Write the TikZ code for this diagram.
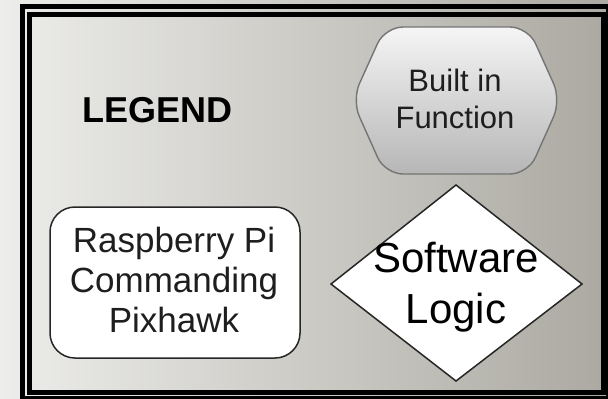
\documentclass[tikz,border=0pt]{standalone}
\usepackage{fontspec}
\setmainfont{Liberation Sans}
\definecolor{bgl}{HTML}{EDEDEB}
\definecolor{bgm}{HTML}{D8D7D2}
\definecolor{bgr}{HTML}{ABA9A1}
\definecolor{txt}{HTML}{1E1E1E}
\definecolor{hexline}{HTML}{747474}
\definecolor{hextop}{HTML}{F5F5F5}
\definecolor{hexbot}{HTML}{B6B6B6}
\tikzset{
  frameline/.style={draw=black, line width=2.5pt},
  boxline/.style={draw=black!85, line width=0.75pt, fill=white},
  labeltext/.style={text=txt, inner sep=0pt, align=center},
}
\begin{document}
\begin{tikzpicture}[x=0.5pt, y=-0.5pt]
\useasboundingbox (0,0) rectangle (608,398);
% background
\shade[left color=bgl, middle color=bgm, right color=bgr] (0,0) rectangle (608,398);
% double frame
\begin{scope}
\clip (0,0) rectangle (608,398);
\draw[frameline] (22.5,6.5) rectangle (608.5,398.5);
\draw[frameline] (29.5,14) rectangle (603,392.5);
\end{scope}
% hexagon (built in function)
\coordinate (h1) at (352,100);
\coordinate (h2) at (385,27);
\coordinate (h3) at (528,27);
\coordinate (h4) at (561,100);
\coordinate (h5) at (528,174);
\coordinate (h6) at (385,174);
\shade[top color=hextop, bottom color=hexbot, draw=hexline, line width=0.7pt, rounded corners=9pt]
  (h1) -- (h2) -- (h3) -- (h4) -- (h5) -- (h6) -- cycle;
% rounded rectangle
\draw[boxline, rounded corners=12.5pt] (50,207) rectangle (300,358);
% diamond
\coordinate (d1) at (456,185);
\coordinate (d2) at (582,284);
\coordinate (d3) at (456,381);
\coordinate (d4) at (331,284);
\draw[boxline] (d1) -- (d2) -- (d3) -- (d4) -- cycle;
% texts
\node[labeltext, anchor=base, font=\fontsize{18}{21}\selectfont\bfseries, text=black] (legend) at (157.5,122) {LEGEND};
\node[labeltext, font=\fontsize{15.5}{18.5}\selectfont] (builtin) at (455,99) {Built in\\Function};
\node[labeltext, font=\fontsize{17.5}{20}\selectfont] (rpi) at (174,280) {Raspberry Pi\\Commanding\\Pixhawk};
\node[labeltext, font=\fontsize{21}{25.5}\selectfont, text=black] (soft) at (456,287.5) {Software\\Logic};
\end{tikzpicture}
\end{document}
